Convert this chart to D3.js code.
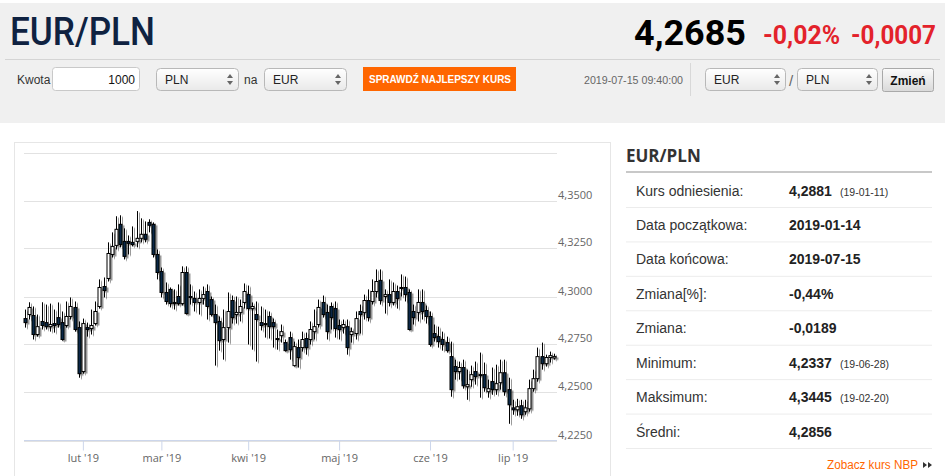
<!DOCTYPE html>
<html>
<head>
<meta charset="utf-8">
<script src="https://d3js.org/d3.v7.min.js"></script>
<style>
body { margin: 0; background: #fff; }
svg text { font-family: "Liberation Sans", Arial, sans-serif; }
</style>
</head>
<body>
<svg id="page" width="945" height="476"></svg>
<script>
// daily EUR/PLN candles, 2019-01-14 .. 2019-07-15
const opens = [
  4.2885, 4.2906, 4.2901, 4.2802, 4.2870, 4.2864, 4.2843, 4.2859, 4.2890, 4.2864,
  4.2849, 4.2896, 4.2943, 4.2838, 4.2609, 4.2838, 4.2833, 4.2859, 4.2948, 4.3052,
  4.3094, 4.3219, 4.3266, 4.3376, 4.3287, 4.3287, 4.3282, 4.3287, 4.3303, 4.3324,
  4.3386, 4.3376, 4.3219, 4.3130, 4.3021, 4.3037, 4.2969, 4.3000, 4.2963, 4.3125,
  4.2995, 4.2990, 4.2969, 4.2990, 4.3026, 4.2984, 4.2906, 4.2870, 4.2776, 4.2838,
  4.2979, 4.2906, 4.2917, 4.2969, 4.3010, 4.2937, 4.2906, 4.2864, 4.2859, 4.2896,
  4.2864, 4.2781, 4.2796, 4.2760, 4.2786, 4.2640, 4.2734, 4.2734, 4.2781, 4.2776,
  4.2817, 4.2854, 4.2969, 4.2917, 4.2948, 4.2937, 4.2849, 4.2838, 4.2843, 4.2802,
  4.2807, 4.2922, 4.2917, 4.2979, 4.2974, 4.3026, 4.3084, 4.3000, 4.3010, 4.2969,
  4.3026, 4.3042, 4.3047, 4.3021, 4.2922, 4.2917, 4.2969, 4.2927, 4.2896, 4.2807,
  4.2791, 4.2776, 4.2760, 4.2687, 4.2635, 4.2609, 4.2630, 4.2530, 4.2567, 4.2609,
  4.2593, 4.2593, 4.2504, 4.2557, 4.2515, 4.2551, 4.2603, 4.2515, 4.2420, 4.2410,
  4.2431, 4.2400, 4.2415, 4.2520, 4.2572, 4.2687, 4.2650, 4.2682, 4.2680
];
const highs = [
  4.2932, 4.2970, 4.2948, 4.2906, 4.2970, 4.2958, 4.2963, 4.2932, 4.2969, 4.2922,
  4.2974, 4.2995, 4.2974, 4.2870, 4.2885, 4.2864, 4.2932, 4.2974, 4.3089, 4.3099,
  4.3282, 4.3334, 4.3418, 4.3423, 4.3355, 4.3318, 4.3365, 4.3445, 4.3407, 4.3391,
  4.3402, 4.3386, 4.3245, 4.3151, 4.3073, 4.3047, 4.3037, 4.3063, 4.3157, 4.3157,
  4.3063, 4.3026, 4.3037, 4.3052, 4.3063, 4.3000, 4.2958, 4.2896, 4.2932, 4.3021,
  4.3005, 4.3000, 4.2984, 4.3068, 4.3057, 4.2969, 4.2974, 4.2948, 4.2932, 4.2922,
  4.2885, 4.2828, 4.2854, 4.2776, 4.2817, 4.2765, 4.2776, 4.2817, 4.2812, 4.2870,
  4.2932, 4.2984, 4.3005, 4.2958, 4.2969, 4.2974, 4.2880, 4.2880, 4.2880, 4.2838,
  4.2922, 4.2958, 4.3010, 4.3037, 4.3089, 4.3141, 4.3141, 4.3037, 4.3089, 4.3073,
  4.3057, 4.3115, 4.3104, 4.3037, 4.2958, 4.3037, 4.3037, 4.2953, 4.2922, 4.2854,
  4.2843, 4.2817, 4.2791, 4.2765, 4.2671, 4.2661, 4.2671, 4.2619, 4.2640, 4.2661,
  4.2708, 4.2656, 4.2567, 4.2630, 4.2645, 4.2671, 4.2671, 4.2577, 4.2462, 4.2467,
  4.2462, 4.2462, 4.2567, 4.2619, 4.2734, 4.2760, 4.2697, 4.2713, 4.2702
];
const lows = [
  4.2838, 4.2880, 4.2776, 4.2791, 4.2828, 4.2828, 4.2817, 4.2812, 4.2838, 4.2770,
  4.2838, 4.2880, 4.2817, 4.2577, 4.2598, 4.2791, 4.2802, 4.2849, 4.2937, 4.2995,
  4.3078, 4.3203, 4.3245, 4.3256, 4.3193, 4.3219, 4.3261, 4.3256, 4.3282, 4.3282,
  4.3334, 4.3203, 4.3089, 4.2995, 4.2958, 4.2943, 4.2932, 4.2953, 4.2953, 4.2906,
  4.2958, 4.2922, 4.2906, 4.2958, 4.2880, 4.2896, 4.2640, 4.2718, 4.2671, 4.2760,
  4.2859, 4.2859, 4.2870, 4.2937, 4.2750, 4.2723, 4.2661, 4.2823, 4.2786, 4.2781,
  4.2734, 4.2723, 4.2760, 4.2713, 4.2671, 4.2635, 4.2630, 4.2713, 4.2697, 4.2750,
  4.2776, 4.2838, 4.2890, 4.2776, 4.2828, 4.2786, 4.2776, 4.2807, 4.2697, 4.2760,
  4.2776, 4.2807, 4.2880, 4.2870, 4.2958, 4.2995, 4.2958, 4.2911, 4.2948, 4.2953,
  4.2937, 4.3000, 4.2974, 4.2823, 4.2854, 4.2870, 4.2880, 4.2859, 4.2739, 4.2765,
  4.2734, 4.2718, 4.2708, 4.2478, 4.2567, 4.2567, 4.2520, 4.2462, 4.2530, 4.2541,
  4.2473, 4.2504, 4.2473, 4.2488, 4.2488, 4.2515, 4.2483, 4.2337, 4.2384, 4.2379,
  4.2363, 4.2384, 4.2400, 4.2504, 4.2556, 4.2619, 4.2635, 4.2656, 4.2671
];
const closes = [
  4.2864, 4.2943, 4.2802, 4.2843, 4.2849, 4.2843, 4.2854, 4.2849, 4.2854, 4.2776,
  4.2896, 4.2948, 4.2828, 4.2598, 4.2859, 4.2828, 4.2849, 4.2922, 4.3047, 4.3031,
  4.3224, 4.3261, 4.3350, 4.3271, 4.3209, 4.3277, 4.3271, 4.3303, 4.3324, 4.3298,
  4.3371, 4.3219, 4.3125, 4.3021, 4.2974, 4.2963, 4.2963, 4.2963, 4.3125, 4.2911,
  4.3000, 4.2969, 4.2990, 4.3010, 4.2948, 4.2906, 4.2864, 4.2770, 4.2838, 4.2922,
  4.2890, 4.2917, 4.2948, 4.3026, 4.2937, 4.2948, 4.2880, 4.2849, 4.2854, 4.2843,
  4.2843, 4.2776, 4.2817, 4.2718, 4.2723, 4.2739, 4.2682, 4.2776, 4.2734, 4.2828,
  4.2843, 4.2943, 4.2906, 4.2817, 4.2890, 4.2833, 4.2828, 4.2854, 4.2734, 4.2817,
  4.2885, 4.2906, 4.2979, 4.2890, 4.3026, 4.3078, 4.2979, 4.3010, 4.2969, 4.3026,
  4.2990, 4.3047, 4.3010, 4.2828, 4.2890, 4.2969, 4.2922, 4.2896, 4.2750, 4.2786,
  4.2765, 4.2750, 4.2718, 4.2515, 4.2609, 4.2630, 4.2535, 4.2541, 4.2593, 4.2583,
  4.2588, 4.2525, 4.2520, 4.2515, 4.2546, 4.2603, 4.2504, 4.2436, 4.2410, 4.2426,
  4.2384, 4.2420, 4.2520, 4.2572, 4.2687, 4.2650, 4.2682, 4.2692, 4.2688
];

// first candle of each month on the ordinal axis
const monthTickIdx = [14, 33, 54, 76, 98, 118];
const monthLabels = ["lut '19", "mar '19", "kwi '19", "maj '19", "cze '19", "lip '19"];
const gridValues = [4.225, 4.25, 4.275, 4.30, 4.325, 4.35, 4.375];
const labelValues = [4.225, 4.25, 4.275, 4.30, 4.325, 4.35];

const statLabels = ["Kurs odniesienia:", "Data początkowa:", "Data końcowa:", "Zmiana[%]:",
                    "Zmiana:", "Minimum:", "Maksimum:", "Średni:"];
const statValues = ["4,2881", "2019-01-14", "2019-07-15", "-0,44%", "-0,0189", "4,2337", "4,3445", "4,2856"];
const statDates = ["(19-01-11)", "", "", "", "", "(19-06-28)", "(19-02-20)", ""];

const svg = d3.select("#page");
const defs = svg.append("defs");

const g1 = defs.append("linearGradient").attr("id", "selGrad").attr("x1", 0).attr("y1", 0).attr("x2", 0).attr("y2", 1);
g1.append("stop").attr("offset", "0%").attr("stop-color", "#ffffff");
g1.append("stop").attr("offset", "100%").attr("stop-color", "#e9e9e9");
const g2 = defs.append("linearGradient").attr("id", "btnGrad").attr("x1", 0).attr("y1", 0).attr("x2", 0).attr("y2", 1);
g2.append("stop").attr("offset", "0%").attr("stop-color", "#fbfbfb");
g2.append("stop").attr("offset", "100%").attr("stop-color", "#d9d9d9");

const sh = defs.append("filter").attr("id", "shadow").attr("x", "-50%").attr("y", "-10%").attr("width", "250%").attr("height", "130%");
sh.append("feDropShadow").attr("dx", 2).attr("dy", 1.5).attr("stdDeviation", 0.4)
  .attr("flood-color", "#000").attr("flood-opacity", 0.4);

// ---------- header ----------
svg.append("rect").attr("x", 0).attr("y", 3).attr("width", 945).attr("height", 120).attr("fill", "#f0f0f0");
svg.append("line").attr("x1", 5).attr("x2", 940).attr("y1", 59.5).attr("y2", 59.5).attr("stroke", "#d4d4d4");

svg.append("text").attr("x", 10).attr("y", 45).text("EUR/PLN")
  .attr("font-size", 38).attr("font-weight", 500).attr("fill", "#0f2241")
  .attr("textLength", 145).attr("lengthAdjust", "spacingAndGlyphs")
  .style("font-family", "Roboto, sans-serif");

svg.append("text").attr("x", 634).attr("y", 45).text("4,2685")
  .attr("font-size", 35).attr("font-weight", 700).attr("fill", "#000")
  .attr("textLength", 112).attr("lengthAdjust", "spacingAndGlyphs")
  .style("font-family", "Roboto, sans-serif");
svg.append("text").attr("x", 763).attr("y", 44).text("-0,02%")
  .attr("font-size", 25).attr("font-weight", 700).attr("fill", "#e3222b")
  .attr("textLength", 77).attr("lengthAdjust", "spacingAndGlyphs")
  .style("font-family", "Roboto, sans-serif");
svg.append("text").attr("x", 851).attr("y", 44).text("-0,0007")
  .attr("font-size", 25).attr("font-weight", 700).attr("fill", "#e3222b")
  .attr("textLength", 85).attr("lengthAdjust", "spacingAndGlyphs")
  .style("font-family", "Roboto, sans-serif");

// form row
svg.append("text").attr("x", 17).attr("y", 84).text("Kwota").attr("font-size", 12).attr("fill", "#333");
svg.append("rect").attr("x", 52.5).attr("y", 67.5).attr("width", 87).attr("height", 23).attr("rx", 3)
  .attr("fill", "#fff").attr("stroke", "#c9c9c9");
svg.append("text").attr("x", 135).attr("y", 84).attr("text-anchor", "end").text("1000")
  .attr("font-size", 12).attr("fill", "#111");

function selectBox(x, w, label) {
  const g = svg.append("g");
  g.append("rect").attr("x", x + 0.5).attr("y", 68.5).attr("width", w).attr("height", 22).attr("rx", 4)
    .attr("fill", "url(#selGrad)").attr("stroke", "#b8b8b8");
  g.append("text").attr("x", x + 9).attr("y", 84).text(label).attr("font-size", 12).attr("fill", "#222");
  const ax = x + w - 8;
  g.append("path").attr("d", `M${ax - 3},78 L${ax},74 L${ax + 3},78 Z`).attr("fill", "#666");
  g.append("path").attr("d", `M${ax - 3},81 L${ax},85 L${ax + 3},81 Z`).attr("fill", "#666");
}
selectBox(156, 82, "PLN");
svg.append("text").attr("x", 244).attr("y", 84).text("na").attr("font-size", 12).attr("fill", "#333");
selectBox(264, 82, "EUR");

svg.append("rect").attr("x", 363).attr("y", 67).attr("width", 153).attr("height", 24).attr("fill", "#ff6600");
svg.append("text").attr("x", 369).attr("y", 83).text("SPRAWDŹ NAJLEPSZY KURS")
  .attr("font-size", 11).attr("font-weight", 700).attr("fill", "#fff")
  .attr("textLength", 142).attr("lengthAdjust", "spacingAndGlyphs");

svg.append("text").attr("x", 584).attr("y", 84).text("2019-07-15 09:40:00")
  .attr("font-size", 11).attr("fill", "#666").attr("textLength", 99).attr("lengthAdjust", "spacingAndGlyphs");
svg.append("line").attr("x1", 690.5).attr("x2", 690.5).attr("y1", 63).attr("y2", 96).attr("stroke", "#d8d8d8");

selectBox(705, 80, "EUR");
svg.append("text").attr("x", 789).attr("y", 86).text("/").attr("font-size", 15).attr("fill", "#666");
selectBox(797, 80, "PLN");
svg.append("rect").attr("x", 882.5).attr("y", 68.5).attr("width", 51).attr("height", 23).attr("rx", 2)
  .attr("fill", "url(#btnGrad)").attr("stroke", "#a9a9a9");
svg.append("text").attr("x", 908).attr("y", 85).attr("text-anchor", "middle").text("Zmień")
  .attr("font-size", 12).attr("font-weight", 700).attr("fill", "#111");

// ---------- chart panel ----------
svg.append("rect").attr("x", 14.5).attr("y", 142.5).attr("width", 596).attr("height", 350)
  .attr("fill", "#fff").attr("stroke", "#e6e6e6");

const n = closes.length;
const x = d3.scaleLinear().domain([0, n - 1]).range([25, 554]);
const y = d3.scaleLinear().domain([4.225, 4.375]).range([440.5, 152.5]);
const fmt = v => d3.format(".4f")(v).replace(".", ",");

svg.append("g").selectAll("line").data(gridValues).join("line")
  .attr("x1", 24).attr("x2", 557)
  .attr("y1", d => Math.round(y(d)) + 0.5).attr("y2", d => Math.round(y(d)) + 0.5)
  .attr("stroke", "#e2e2e2");

svg.append("g").selectAll("text").data(labelValues).join("text")
  .attr("x", 558).attr("y", d => Math.round(y(d)) - 2)
  .text(fmt).attr("font-size", 11).attr("fill", "#666")
  .style("font-family", "'Open Sans', sans-serif");

const xAxis = d3.axisBottom(x).tickValues(monthTickIdx)
  .tickFormat((d, i) => monthLabels[i]).tickSize(10).tickPadding(4);
const xg = svg.append("g").attr("transform", "translate(0,440.5)").call(xAxis);
xg.select(".domain").attr("d", "M24,0H557").attr("stroke", "#ccd6eb");
xg.selectAll(".tick line").attr("stroke", "#ccd6eb");
xg.selectAll(".tick text").attr("fill", "#666").attr("font-size", 11)
  .style("font-family", "'Open Sans', sans-serif");

const candles = svg.append("g").attr("filter", "url(#shadow)");
d3.range(n).forEach(i => {
  const cx = Math.round(x(i));
  const up = closes[i] >= opens[i];
  candles.append("line")
    .attr("x1", cx + 0.5).attr("x2", cx + 0.5)
    .attr("y1", y(highs[i])).attr("y2", y(lows[i]))
    .attr("stroke", "#000").attr("stroke-width", 1);
  const top = y(Math.max(opens[i], closes[i]));
  const bot = y(Math.min(opens[i], closes[i]));
  candles.append("rect")
    .attr("x", cx - 1).attr("width", 3)
    .attr("y", top).attr("height", Math.max(1, bot - top))
    .attr("fill", up ? "#fff" : "#0c2648")
    .attr("stroke", "#000").attr("stroke-width", 1);
});

// ---------- stats table ----------
svg.append("text").attr("x", 626).attr("y", 162).text("EUR/PLN")
  .attr("font-size", 17).attr("font-weight", 700).attr("fill", "#333")
  .style("font-family", "'Open Sans', sans-serif");
svg.append("rect").attr("x", 626).attr("y", 171).attr("width", 306).attr("height", 2).attr("fill", "#c8c8c8");

const rowY = d3.scaleLinear().domain([0, 7]).range([190.5, 431.5]);
const rows = svg.append("g").selectAll("g").data(statLabels).join("g")
  .attr("transform", (d, i) => `translate(0,${rowY(i)})`);
rows.append("text").attr("x", 636).attr("y", 5).text(d => d)
  .attr("font-size", 14).attr("fill", "#333");
rows.append("text").attr("x", 789).attr("y", 5).text((d, i) => statValues[i])
  .attr("font-size", 14).attr("font-weight", 700).attr("fill", "#222");
rows.append("text").attr("x", 840).attr("y", 5).text((d, i) => statDates[i])
  .attr("font-size", 10.5).attr("fill", "#333");
rows.append("line").attr("x1", 626).attr("x2", 932).attr("y1", 17).attr("y2", 17)
  .attr("stroke", "#ececec");

svg.append("text").attr("x", 827).attr("y", 469).text("Zobacz kurs NBP")
  .attr("font-size", 12.5).attr("fill", "#ff6600")
  .attr("textLength", 91).attr("lengthAdjust", "spacingAndGlyphs");
svg.append("path").attr("d", "M923,462 L927,465 L923,468 Z M928,462 L932,465 L928,468 Z").attr("fill", "#333");
</script>
</body>
</html>
